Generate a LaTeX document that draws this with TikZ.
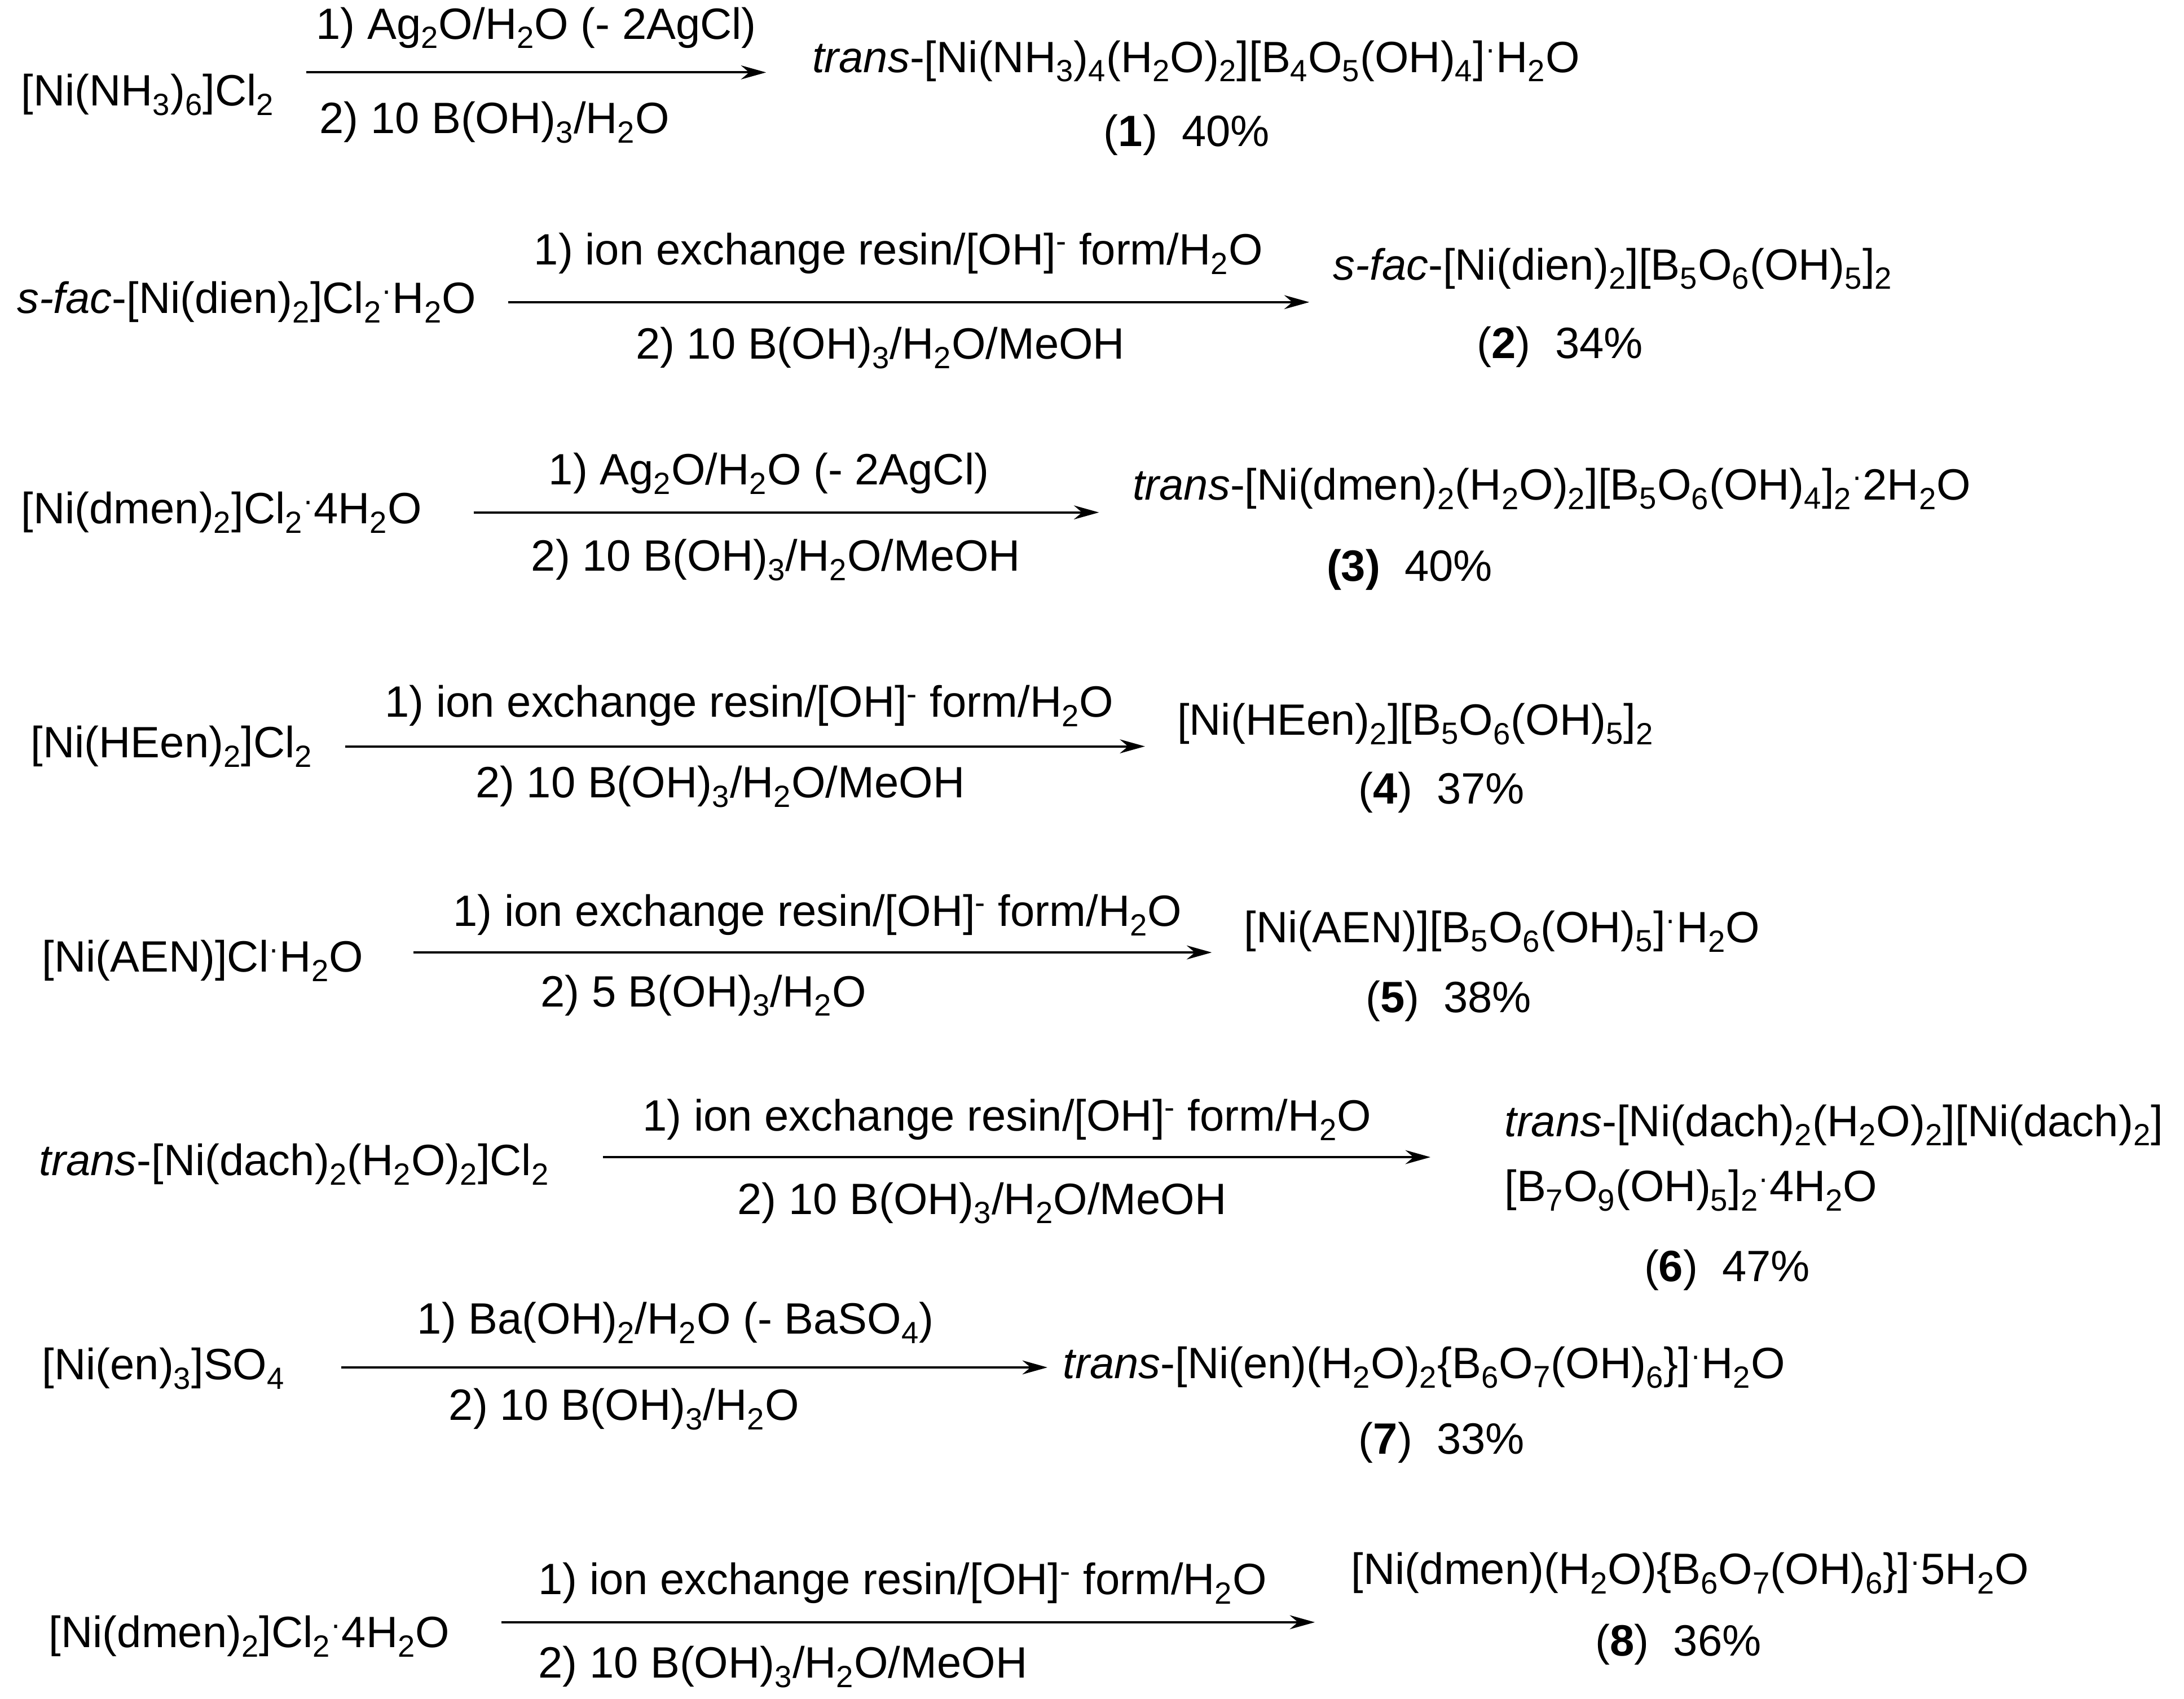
\documentclass[tikz,border=0pt]{standalone}
\usepackage{fontspec}
\setmainfont{Liberation Sans}
\usetikzlibrary{arrows.meta}
\newcommand{\Sb}[1]{\textsubscript{#1}}
\newcommand{\Sp}[1]{\textsuperscript{#1}}
\newcommand{\hd}{\textsuperscript{·}}
\begin{document}
\begin{tikzpicture}[x=1pt,y=-1pt,
  every node/.style={font=\fontsize{31.5}{36}\selectfont,inner sep=0pt},
  lt/.style={anchor=west},
  rxn/.style={line width=1.6pt,-{Stealth[length=18pt,width=10pt]}}]
\useasboundingbox (0,0) rectangle (1568,1220);
% row 1
\node[lt] (r1) at (15,68) {[Ni(NH\Sb{3})\Sb{6}]Cl\Sb{2}};
\coordinate (a1s) at (220,52); \coordinate (a1e) at (550,52);
\draw[rxn] (a1s) -- (a1e);
\node (t1) at (385,20) {1) Ag\Sb{2}O/H\Sb{2}O (- 2AgCl)};
\node (b1) at (355,88) {2) 10 B(OH)\Sb{3}/H\Sb{2}O};
\node[lt] (p1) at (583,44) {\textit{trans}-[Ni(NH\Sb{3})\Sb{4}(H\Sb{2}O)\Sb{2}][B\Sb{4}O\Sb{5}(OH)\Sb{4}]\hd H\Sb{2}O};
\node (y1) at (852,97) {(\textbf{1})\ \ 40\%};
% row 2
\node[lt] (r2) at (12,217) {\textit{s-fac}-[Ni(dien)\Sb{2}]Cl\Sb{2}\hd H\Sb{2}O};
\coordinate (a2s) at (365,217); \coordinate (a2e) at (940,217);
\draw[rxn] (a2s) -- (a2e);
\node (t2) at (645,182) {1) ion exchange resin/[OH]\Sp{-} form/H\Sb{2}O};
\node (b2) at (632,250) {2) 10 B(OH)\Sb{3}/H\Sb{2}O/MeOH};
\node[lt] (p2) at (957,193) {\textit{s-fac}-[Ni(dien)\Sb{2}][B\Sb{5}O\Sb{6}(OH)\Sb{5}]\Sb{2}};
\node (y2) at (1120,249) {(\textbf{2})\ \ 34\%};
% row 3
\node[lt] (r3) at (15,368) {[Ni(dmen)\Sb{2}]Cl\Sb{2}\hd 4H\Sb{2}O};
\coordinate (a3s) at (340,368); \coordinate (a3e) at (789,368);
\draw[rxn] (a3s) -- (a3e);
\node (t3) at (552,340) {1) Ag\Sb{2}O/H\Sb{2}O (- 2AgCl)};
\node (b3) at (557,402) {2) 10 B(OH)\Sb{3}/H\Sb{2}O/MeOH};
\node[lt] (p3) at (813,351) {\textit{trans}-[Ni(dmen)\Sb{2}(H\Sb{2}O)\Sb{2}][B\Sb{5}O\Sb{6}(OH)\Sb{4}]\Sb{2}\hd 2H\Sb{2}O};
\node (y3) at (1012,409) {\textbf{(3)}\ \ 40\%};
% row 4
\node[lt] (r4) at (22,536) {[Ni(HEen)\Sb{2}]Cl\Sb{2}};
\coordinate (a4s) at (248,536); \coordinate (a4e) at (822,536);
\draw[rxn] (a4s) -- (a4e);
\node (t4) at (538,507) {1) ion exchange resin/[OH]\Sp{-} form/H\Sb{2}O};
\node (b4) at (517,565) {2) 10 B(OH)\Sb{3}/H\Sb{2}O/MeOH};
\node[lt] (p4) at (845,520) {[Ni(HEen)\Sb{2}][B\Sb{5}O\Sb{6}(OH)\Sb{5}]\Sb{2}};
\node (y4) at (1035,569) {(\textbf{4})\ \ 37\%};
% row 5
\node[lt] (r5) at (30,690) {[Ni(AEN)]Cl\hd H\Sb{2}O};
\coordinate (a5s) at (297,684); \coordinate (a5e) at (870,684);
\draw[rxn] (a5s) -- (a5e);
\node (t5) at (587,657) {1) ion exchange resin/[OH]\Sp{-} form/H\Sb{2}O};
\node (b5) at (505,715) {2) 5 B(OH)\Sb{3}/H\Sb{2}O};
\node[lt] (p5) at (893,669) {[Ni(AEN)][B\Sb{5}O\Sb{6}(OH)\Sb{5}]\hd H\Sb{2}O};
\node (y5) at (1040,719) {(\textbf{5})\ \ 38\%};
% row 6
\node[lt] (r6) at (28,836) {\textit{trans}-[Ni(dach)\Sb{2}(H\Sb{2}O)\Sb{2}]Cl\Sb{2}};
\coordinate (a6s) at (433,831); \coordinate (a6e) at (1027,831);
\draw[rxn] (a6s) -- (a6e);
\node (t6) at (723,804) {1) ion exchange resin/[OH]\Sp{-} form/H\Sb{2}O};
\node (b6) at (705,864) {2) 10 B(OH)\Sb{3}/H\Sb{2}O/MeOH};
\node[lt] (p6) at (1080,808) {\textit{trans}-[Ni(dach)\Sb{2}(H\Sb{2}O)\Sb{2}][Ni(dach)\Sb{2}]};
\node[lt] (p6b) at (1080,855) {[B\Sb{7}O\Sb{9}(OH)\Sb{5}]\Sb{2}\hd 4H\Sb{2}O};
\node (y6) at (1240,912) {(\textbf{6})\ \ 47\%};
% row 7
\node[lt] (r7) at (30,983) {[Ni(en)\Sb{3}]SO\Sb{4}};
\coordinate (a7s) at (245,982); \coordinate (a7e) at (752,982);
\draw[rxn] (a7s) -- (a7e);
\node (t7) at (485,950) {1) Ba(OH)\Sb{2}/H\Sb{2}O (- BaSO\Sb{4})};
\node (b7) at (448,1012) {2) 10 B(OH)\Sb{3}/H\Sb{2}O};
\node[lt] (p7) at (763,982) {\textit{trans}-[Ni(en)(H\Sb{2}O)\Sb{2}\{B\Sb{6}O\Sb{7}(OH)\Sb{6}\}]\hd H\Sb{2}O};
\node (y7) at (1035,1036) {(\textbf{7})\ \ 33\%};
% row 8
\node[lt] (r8) at (35,1175) {[Ni(dmen)\Sb{2}]Cl\Sb{2}\hd 4H\Sb{2}O};
\coordinate (a8s) at (360,1165); \coordinate (a8e) at (944,1165);
\draw[rxn] (a8s) -- (a8e);
\node (t8) at (648,1137) {1) ion exchange resin/[OH]\Sp{-} form/H\Sb{2}O};
\node (b8) at (562,1197) {2) 10 B(OH)\Sb{3}/H\Sb{2}O/MeOH};
\node[lt] (p8) at (970,1130) {[Ni(dmen)(H\Sb{2}O)\{B\Sb{6}O\Sb{7}(OH)\Sb{6}\}]\hd 5H\Sb{2}O};
\node (y8) at (1205,1181) {(\textbf{8})\ \ 36\%};
\end{tikzpicture}
\end{document}
